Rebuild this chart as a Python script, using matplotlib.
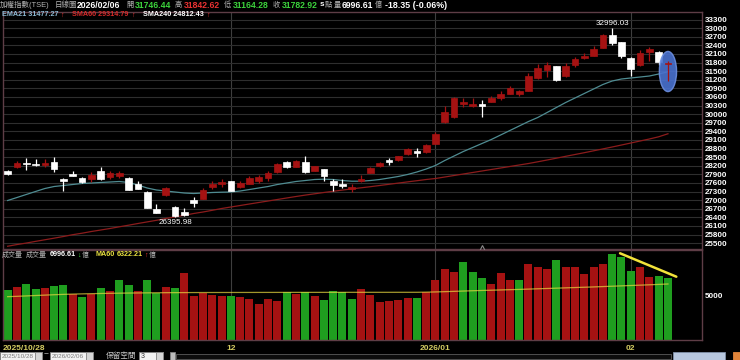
import matplotlib
matplotlib.use('Agg')
import matplotlib.pyplot as plt
from matplotlib.patches import Ellipse, Rectangle
from matplotlib.transforms import blended_transform_factory

plt.rcParams['font.family'] = ['Liberation Sans', 'Noto Sans CJK TC', 'DejaVu Sans']

# daily candles 2025/10/28 .. 2026/02/06
opens = [28010, 28138, 28312, 28253, 28242, 28337, 27754, 27894, 27778, 27744,
         28009, 27799, 27834, 27778, 27569, 27290, 26683, 27185, 26777, 26578,
         27011, 27022, 27475, 27545, 27650, 27475, 27569, 27660, 27765, 27974,
         28323, 28148, 28347, 28033, 28079, 27674, 27569, 27381, 27660, 27939,
         28197, 28393, 28393, 28616, 28706, 28672, 28964, 29718, 29892, 30346,
         30276, 30360, 30430, 30545, 30708, 30708, 30799, 31253, 31546, 31671,
         31322, 31730, 31950, 32020, 32313, 32777, 32508, 31964, 31696, 32184,
         32184, 31746.44]
highs = [28040, 28357, 28462, 28427, 28427, 28521, 27760, 28009, 27790, 27974,
         28162, 28033, 28009, 27800, 27684, 27335, 26871, 27475, 26790, 26732,
         27126, 27429, 27650, 27744, 27660, 27684, 27824, 27859, 28000, 28290,
         28350, 28390, 28532, 28200, 28090, 27744, 27744, 27569, 27859, 28140,
         28340, 28476, 28550, 28825, 28825, 28960, 29359, 30300, 30580, 30555,
         30555, 30475, 30649, 30789, 30974, 30858, 31450, 31755, 31811, 31680,
         31776, 31985, 32138, 32369, 32801, 32996.03, 32530, 31980, 32243, 32334,
         32200, 31842.62]
lows = [27880, 28113, 28068, 28200, 28138, 27974, 27335, 27840, 27590, 27625,
        27708, 27744, 27778, 27350, 27400, 26720, 26550, 27150, 26395.98, 26429,
        26753, 27022, 27395, 27475, 27301, 27429, 27545, 27590, 27684, 27960,
        28130, 28140, 27960, 28010, 27674, 27325, 27429, 27290, 27625, 27930,
        28150, 28242, 28380, 28567, 28521, 28660, 28950, 29700, 29880, 30265,
        30241, 29892, 30420, 30475, 30700, 30625, 30790, 31230, 31288, 31148,
        31280, 31636, 31915, 32010, 32300, 32418, 31950, 31322, 31680, 31870,
        31730, 31164.28]
closes = [27905, 28288, 28253, 28210, 28312, 28079, 27684, 27850, 27625, 27883,
          27754, 27963, 27939, 27360, 27405, 26732, 26558, 27416, 26429, 26488,
          26893, 27370, 27569, 27639, 27301, 27590, 27778, 27790, 27953, 28267,
          28138, 28371, 27974, 28173, 27834, 27510, 27486, 27475, 27744, 28127,
          28288, 28347, 28532, 28790, 28661, 28940, 29313, 30067, 30555, 30440,
          30360, 30276, 30555, 30708, 30904, 30789, 31347, 31601, 31720, 31197,
          31695, 31929, 32044, 32278, 32766, 32487, 32020, 31580, 32138, 32278,
          31801.27, 31782.92]

ema21 = [26987, 27091, 27196, 27301, 27405, 27475, 27510, 27545, 27580, 27597,
         27615, 27632, 27650, 27615, 27527, 27423, 27353, 27318, 27283, 27248,
         27231, 27248, 27266, 27276, 27283, 27318, 27370, 27423, 27475, 27545,
         27597, 27650, 27684, 27719, 27730, 27719, 27684, 27660, 27660, 27684,
         27719, 27771, 27824, 27894, 27981, 28085, 28208, 28382, 28539, 28696,
         28835, 28975, 29114, 29271, 29428, 29585, 29742, 29882, 30056, 30231,
         30405, 30562, 30719, 30876, 31033, 31155, 31225, 31260, 31294, 31329,
         31399, 31477.27]
sma60 = [25391, 25450, 25502, 25561, 25617, 25673, 25731, 25794, 25846, 25905,
         25957, 26010, 26069, 26125, 26184, 26240, 26296, 26359, 26415, 26471,
         26533, 26585, 26645, 26707, 26760, 26812, 26865, 26917, 26969, 27022,
         27074, 27126, 27175, 27220, 27266, 27308, 27350, 27392, 27430, 27468,
         27510, 27552, 27594, 27636, 27677, 27719, 27754, 27806, 27859, 27911,
         27963, 28016, 28068, 28120, 28173, 28225, 28277, 28337, 28399, 28462,
         28528, 28591, 28654, 28720, 28786, 28853, 28922, 28992, 29062, 29132,
         29209, 29314.79]

# volume (億) and its colour (R = up vs previous close, G = down)
volume = [5643, 5982, 6354, 5756, 5869, 6095, 6208, 5192, 4890, 5154,
          5869, 5530, 6772, 6170, 5530, 6772, 5267, 5982, 5869, 7600,
          5003, 5267, 5117, 5003, 5003, 4890, 4627, 4063, 4627, 4440,
          5380, 5154, 5380, 4928, 4552, 5530, 5380, 4627, 5756, 5079,
          4326, 4401, 4477, 4702, 4702, 5455, 6772, 8013, 7675, 8840,
          7637, 7036, 6354, 7562, 6810, 6734, 8540, 8277, 8013, 9029,
          8201, 8201, 7487, 8201, 8540, 9672, 9401, 7750, 8239, 7111,
          7223, 6996.61]
vol_dir = ('GRGGRGGRGRGRGGRGGRGR'
           'RRRRGRRRRRGRGRGGGGRR'
           'RRRRGRRRRGGGRRRGRRRG'
           'RRRRRGGGRRGG')
vol_ma60 = [4890, 4930, 4975, 5020, 5065, 5110, 5150, 5180, 5205, 5230,
            5250, 5270, 5285, 5300, 5310, 5320, 5330, 5340, 5345, 5350,
            5355, 5358, 5360, 5362, 5364, 5366, 5368, 5370, 5371, 5372,
            5373, 5374, 5375, 5376, 5377, 5378, 5379, 5380, 5380, 5381,
            5382, 5382, 5383, 5383, 5385, 5400, 5425, 5455, 5490, 5525,
            5560, 5590, 5620, 5650, 5680, 5710, 5745, 5780, 5815, 5850,
            5885, 5920, 5955, 5990, 6030, 6070, 6110, 6150, 6190, 6230,
            6275, 6322.21]

month_idx = [0, 24, 46, 67]
month_lbl = ['2025/10/28', '12', '2026/01', '02']
price_ticks = list(range(25500, 33301, 300))

# hand drawn marks on the chart
trend_x = [65.85, 71.9]
trend_v = [9786, 7145]
circle_c = (71.0, 31486)

RED = '#a51212'
GREEN = '#1f9e1f'
BG = 'black'
BORDER = '#5e3d46'

W, H = 740, 360


def fx(x):
    return x / W


def fy(y):
    return 1 - y / H


fig = plt.figure(figsize=(7.4, 3.6), dpi=100, facecolor=BG)
ax = fig.add_axes([fx(3), fy(249), 699 / W, 237 / H], facecolor=BG)
axv = fig.add_axes([fx(3), fy(340), 699 / W, 90 / H], facecolor=BG)

n = len(closes)
for a in (ax, axv):
    a.set_xlim(-0.5, 74.66)
    for s in a.spines.values():
        s.set_color(BORDER)
        s.set_linewidth(1)
    a.set_xticks([])
    a.yaxis.tick_right()
    a.tick_params(axis='y', colors='white', labelsize=5.8, length=0, pad=2)
    for m in month_idx[1:]:
        a.axvline(m, color='#3e3e3e', lw=0.8, zorder=0)

# price panel
ax.set_ylim(25295, 33562)
ax.set_yticks(price_ticks)
ax.set_yticklabels([str(t) for t in price_ticks], fontweight='bold')
for t in price_ticks:
    ax.axhline(t, color='#2e2e2e', lw=0.8, zorder=0)

ax.plot(range(n), sma60, color='#8c1c1c', lw=0.9, zorder=2)
ax.plot(range(n), ema21, color='#4f8c92', lw=0.9, zorder=2)

for i in range(n):
    o, h, l, c = opens[i], highs[i], lows[i], closes[i]
    col = RED if c >= o else 'white'
    z = 5 if i == n - 1 else 3
    ax.vlines(i, l, h, color=col, lw=0.9, zorder=z)
    ax.bar(i, max(abs(c - o), 20), bottom=min(o, c), width=0.72,
           color=col, edgecolor=col, lw=0.5, zorder=z)

ax.add_patch(Ellipse(circle_c, 1.85, 1400, facecolor='#4a72d0',
                     edgecolor='#6c8fe0', lw=1, alpha=0.9, zorder=4))

hi_i = highs.index(max(highs))
lo_i = lows.index(min(lows))
ax.text(hi_i, highs[hi_i] + 60, '%.2f' % highs[hi_i], color='white',
        fontsize=5.8, ha='center', va='bottom')
ax.text(lo_i, lows[lo_i] - 40, '%.2f' % lows[lo_i], color='white',
        fontsize=5.8, ha='center', va='top')
ax.plot(51, 25345, marker='^', mfc='none', mec='#8a8a8a', ms=4, mew=0.8,
        clip_on=False, zorder=6)

# volume panel
axv.set_ylim(0, 10158)
axv.set_yticks([5000])
axv.set_yticklabels(['5000'], fontweight='bold')
vcols = [RED if d == 'R' else GREEN for d in vol_dir]
axv.bar(range(n), volume, width=0.86, color=vcols, zorder=2)
axv.plot(range(n), vol_ma60, color='#e8d840', lw=0.9, alpha=0.7, zorder=3)
axv.plot(trend_x, trend_v, color='#f2e23a', lw=1.8, zorder=4,
         solid_capstyle='round')

tr = blended_transform_factory(axv.transData, axv.transAxes)
for m, lbl in zip(month_idx, month_lbl):
    axv.text(m - 0.5 if m == 0 else m, -0.09, lbl, transform=tr,
             color='#d4cc62', fontsize=6, fontweight='bold',
             ha='left' if m == 0 else 'center', va='center')


def txt(x, y, s, col, size=6.0, bold=False):
    fig.text(fx(x), fy(y), s, color=col, fontsize=size,
             fontweight='bold' if bold else 'normal', ha='left', va='center')


GRAY = '#b4b4b4'
GR = '#3cd23c'
RD = '#e83232'
# title row
txt(0, 5, '加權指數(TSE)', GRAY, 5.4)
txt(55, 5, '日線圖', GRAY, 5.4)
txt(77, 5, '2026/02/06', 'white', 6.2, True)
txt(126, 5, '開', GRAY, 5.2)
txt(135, 5, '31746.44', GR, 6.2, True)
txt(175, 5, '高', GRAY, 5.2)
txt(184, 5, '31842.62', RD, 6.2, True)
txt(224, 5, '低', GRAY, 5.2)
txt(233, 5, '31164.28', GR, 6.2, True)
txt(273, 5, '收', GRAY, 5.2)
txt(282, 5, '31782.92', GR, 6.2, True)
txt(320, 5, 's', 'white', 5.8, True)
txt(325, 5, '點', GRAY, 5.2)
txt(334, 5, '量', GRAY, 5.2)
txt(342, 5, '6996.61', 'white', 6.2, True)
txt(375, 5, '億', GRAY, 5.2)
txt(385, 5, '-18.35 (-0.06%)', 'white', 6.4, True)

# indicator row
txt(2, 15, 'EMA21 31477.27', '#8cb8d2', 5.2, True)
txt(60, 15, '↑', RD, 5.2, True)
txt(72, 15, 'SMA60 29314.79', '#d42a2a', 5.2, True)
txt(131, 15, '↑', RD, 5.2, True)
txt(143, 15, 'SMA240 24812.43', 'white', 5.2, True)
txt(206, 15, '↑', RD, 5.2, True)

# volume row
txt(2, 255, '成交量', GRAY, 5.0)
txt(26, 255, '成交量', GRAY, 5.0)
txt(50, 255, '6996.61', 'white', 5.2, True)
txt(77, 255, '↓', GR, 5.2, True)
txt(82, 255, '億', GRAY, 5.0)
txt(96, 255, 'MA60', '#e8e040', 5.2, True)
txt(117, 255, '6322.21', '#e8e040', 5.2, True)
txt(144, 255, '↑', RD, 5.2, True)
txt(149, 255, '億', GRAY, 5.0)


def box(x, y, w, h, fc, ec='#808080'):
    fig.patches.append(Rectangle((fx(x), fy(y + h)), w / W, h / H,
                                 transform=fig.transFigure, facecolor=fc,
                                 edgecolor=ec, lw=0.6))


# date range controls at the bottom
box(0, 352, 42, 8, '#f2f2f2')
box(35, 352, 7, 8, '#d6d6d6')
txt(1.5, 356, '2025/10/28', '#7a7a7a', 4.6)
txt(44, 355, '~', 'white', 6)
box(50, 352, 43, 8, '#f2f2f2')
box(86, 352, 7, 8, '#d6d6d6')
txt(51.5, 356, '2026/02/06', '#7a7a7a', 4.6)
txt(106, 356, '保留空間', '#c8c8c8', 5.5)
box(139, 352, 24, 8, '#f2f2f2')
box(156, 352, 7, 8, '#d6d6d6')
txt(141, 356, '3', '#333333', 5)
box(170, 352, 5, 8, '#bcbcbc')
box(176, 353.5, 495, 5, '#0c0c0c', '#5a5a5a')
box(673, 352, 52, 8, '#b7c7de', '#8090a8')
box(733, 352, 7, 8, '#e0843a', '#e0843a')

fig.savefig('out.png', dpi=100, facecolor=BG)
